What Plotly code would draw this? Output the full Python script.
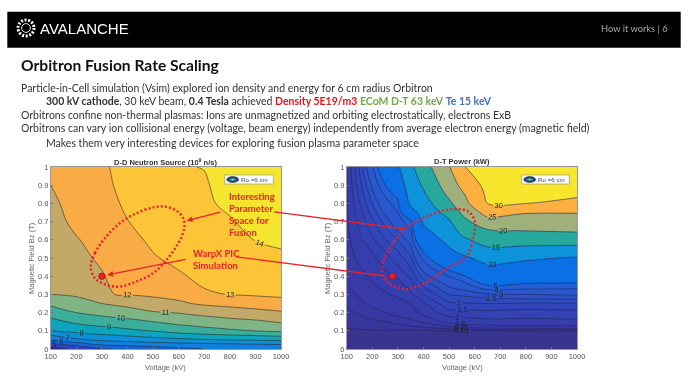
import plotly.graph_objects as go

W, H = 690, 390

# ---------- D-D neutron source (10^9 n/s) ----------
dd_voltage = [100, 200, 300, 350, 400, 500, 600, 700, 800, 900, 1000]
dd_field = [0, .02, .05, .1, .15, .2, .25, .3, .4, .5, .6, .7, .8, .9, 1]
dd_v100 = [3.5, 4.4, 6, 8, 8.7, 9.45, 10.2, 11, 11.2, 11.3, 11.5, 11.67, 11.83, 12, 12.2]
dd_v200 = [4.3, 5.1, 6.8, 8.3, 9.2, 10, 10.7, 11.1, 11.4, 11.66, 11.94, 12.2, 12.3, 12.5, 12.7]
dd_v300 = [4.9, 5.9, 7.2, 8.55, 9.5, 10.3, 11, 11.4, 11.9, 12.2, 12.35, 12.5, 12.6, 12.75, 12.85]
dd_v350 = [5.05, 6, 7.3, 8.65, 9.6, 10.45, 11.15, 12, 12.3, 12.4, 12.55, 12.7, 12.9, 13.03, 13.1]
dd_v400 = [5.2, 6.1, 7.4, 8.8, 9.7, 10.55, 11.3, 12.03, 12.4, 12.55, 12.75, 12.98, 13.15, 13.3, 13.4]
dd_v500 = [5.5, 6.25, 7.6, 9.05, 10, 10.9, 11.7, 12.12, 12.6, 12.93, 13.15, 13.3, 13.45, 13.6, 13.7]
dd_v600 = [5.75, 6.4, 7.75, 9.4, 10.3, 11.05, 11.85, 12.3, 12.9, 13.2, 13.4, 13.6, 13.75, 13.85, 13.95]
dd_v700 = [6, 6.5, 7.9, 9.65, 10.5, 11.3, 12.15, 12.9, 13.2, 13.4, 13.6, 13.75, 13.88, 13.92, 14.02]
dd_v800 = [6.1, 6.6, 8, 9.85, 10.7, 11.5, 12.3, 13.02, 13.3, 13.55, 13.75, 13.93, 14.15, 14.3, 14.4]
dd_v900 = [6.2, 6.7, 8.1, 10.02, 10.85, 11.65, 12.5, 13.1, 13.45, 13.75, 14.02, 14.25, 14.4, 14.55, 14.7]
dd_v1000 = [6.3, 6.8, 8.2, 10.2, 11.1, 11.9, 12.6, 13.2, 13.55, 13.9, 14.1, 14.4, 14.6, 14.8, 14.9]
dd_columns = [dd_v100, dd_v200, dd_v300, dd_v350, dd_v400, dd_v500, dd_v600, dd_v700, dd_v800, dd_v900, dd_v1000]
dd_levels = [4, 5, 6, 7, 8, 9, 10, 11, 12, 13, 14]
dd_colors = ['#2a45c0', '#1565d8', '#1080e0', '#0d90d5', '#0ca5bd', '#3aae9a', '#80b484', '#c2a968',
             '#f9ac45', '#fcc437', '#f6e52e']

# ---------- D-T power (kW) ----------
dt_voltage = [100, 200, 300, 350, 400, 500, 550, 650, 800, 1000]
dt_field = [0, .1, .11, .15, .2, .25, .3, .35, .4, .45, .5, .55, .6, .65, .7, .75, .8, .85, .9, 1]
dt_v100 = [0, 0, .005, .04, .07, .11, .17, .24, .27, .3, .32, .34, .36, .38, .39, .41, .42, .43, .44, .46]
dt_v200 = [0, 0, .02, .07, .17, .3, .38, .46, .55, .66, .88, 1.06, 1.4, 1.65, 1.9, 2.2, 2.5, 2.8, 3.12, 3.8]
dt_v300 = [0, 0, .03, .13, .33, .42, .55, .78, 1.1, 1.43, 1.75, 2.08, 2.5, 3, 3.5, 4, 4.6, 5.5, 6.8, 9.5]
dt_v350 = [0, 0, .04, .2, .37, .5, .85, 1.22, 1.6, 2, 2.35, 2.8, 3.3, 3.9, 4.7, 8, 10.9, 11.9, 12.8, 14]
dt_v400 = [0, 0, .05, .27, .6, .9, 1.5, 2.1, 2.7, 3.4, 4.3, 5.5, 7.5, 9, 10.6, 11.9, 13, 14.4, 15.5, 18]
dt_v500 = [0, 0, .08, .6, 1.3, 1.9, 2.5, 3.1, 4, 5.6, 7.5, 9.7, 11.2, 12.8, 14.4, 16.6, 19, 21, 22.5, 24.7]
dt_v550 = [0, 0, .1, .7, 1.28, 1.95, 2.6, 3.4, 4.7, 6.3, 9, 11.7, 14, 16.2, 18.5, 20.5, 23, 24.3, 26, 29.5]
dt_v650 = [0, 0, .15, .85, 1.35, 2, 2.85, 5, 7, 9.2, 11.7, 14.4, 17, 19.5, 23, 26.8, 30.05, 30.8, 31.5, 33]
dt_v800 = [0, 0, .2, .85, 1.25, 1.95, 3, 4.7, 6.2, 8.3, 10.7, 14, 17, 20.05, 22.6, 25.3, 30.05, 30.9, 31.5, 33]
dt_v1000 = [0, 0, .2, .9, 1.3, 1.98, 3.1, 4.6, 6.25, 8, 9.6, 13.6, 17.2, 20.5, 23, 25.2, 28.2, 31, 32, 33]
dt_columns = [dt_v100, dt_v200, dt_v300, dt_v350, dt_v400, dt_v500, dt_v550, dt_v650, dt_v800, dt_v1000]
dt_levels = [.01, .1, .25, .5, 1, 1.5, 2, 2.5, 3, 4, 5, 10, 15, 20, 25, 30]
dt_colors = ['#38369c', '#3838a2', '#383aa8', '#363eae', '#3442b4', '#3146ba', '#2e4cc0', '#2b52c6', '#2858cc',
             '#2260d6', '#0b6fe6', '#0d93da', '#26a89c', '#9fb07a', '#fbb040', '#f8e62c']

# ---------- overlay readings ----------
ellipse_dd_v = [256, 273, 312, 371, 436, 501, 540, 586, 618, 622, 599, 553, 501, 436, 371, 319, 273, 256]
ellipse_dd_b = [.453, .527, .609, .692, .747, .778, .783, .765, .719, .664, .582, .49, .417, .371, .343, .352, .389, .453]
ellipse_dt_v = [239, 250, 282, 328, 399, 477, 529, 575, 601, 594, 568, 503, 438, 373, 321, 276, 246, 239]
ellipse_dt_b = [.453, .508, .582, .661, .719, .76, .769, .756, .701, .609, .508, .453, .389, .343, .33, .352, .389, .453]
point_dd = (300, .40)
point_dt = (278, .40)
voltage_ticks = [100, 200, 300, 400, 500, 600, 700, 800, 900, 1000]
field_ticks = [0, .1, .2, .3, .4, .5, .6, .7, .8, .9, 1]


def transpose(columns):
    return [list(row) for row in zip(*columns)]


def px(x):
    return x / W


def py(y):
    return 1 - y / H


fig = go.Figure()


def add_panel(xs, ys, z, levels, colors, xa, ya, base, line_color):
    fig.add_trace(go.Heatmap(x=xs, y=ys, z=[[0] * len(xs) for _ in ys], showscale=False,
                             colorscale=[[0, base], [1, base]], hoverinfo='skip', xaxis=xa, yaxis=ya))
    # a constraint contour shades the side that fails the test, so "<=" shades the values above the level
    for lvl, c in zip(levels, colors):
        fig.add_trace(go.Contour(x=xs, y=ys, z=z, showscale=False, hoverinfo='skip', xaxis=xa, yaxis=ya,
                                 fillcolor=c, line=dict(width=0),
                                 contours=dict(type='constraint', operation='<=', value=lvl)))
    for lvl in levels:
        fig.add_trace(go.Contour(x=xs, y=ys, z=z, showscale=False, hoverinfo='skip', xaxis=xa, yaxis=ya,
                                 autocontour=False, line=dict(width=0.6, color=line_color),
                                 contours=dict(coloring='none', start=lvl, end=lvl, size=1, showlabels=True,
                                               labelformat='.3~g',
                                               labelfont=dict(size=7.5, color='#222', family='Liberation Sans'))))


add_panel(dd_voltage, dd_field, transpose(dd_columns), dd_levels, dd_colors, 'x', 'y', '#342c8c', '#2b2b2b')
add_panel(dt_voltage, dt_field, transpose(dt_columns), dt_levels, dt_colors, 'x2', 'y2', '#38348f', '#23275e')

for xs, ys, pt, xa, ya in [(ellipse_dd_v, ellipse_dd_b, point_dd, 'x', 'y'),
                           (ellipse_dt_v, ellipse_dt_b, point_dt, 'x2', 'y2')]:
    fig.add_trace(go.Scatter(x=xs, y=ys, mode='lines', xaxis=xa, yaxis=ya, hoverinfo='skip',
                             line=dict(color='#e8202a', width=2.4, dash='2px 2.2px', shape='spline', smoothing=1)))
    fig.add_trace(go.Scatter(x=[pt[0]], y=[pt[1]], mode='markers', xaxis=xa, yaxis=ya, hoverinfo='skip',
                             marker=dict(size=6.5, color='#f01c1c', line=dict(color='#8a1010', width=0.6))))

axis_font = dict(family='Liberation Sans', size=7.5, color='#555')


def axis_style(**kw):
    return dict(showgrid=False, zeroline=False, showline=True, mirror=True, linecolor='#999', linewidth=0.6,
                ticks='inside', ticklen=2, tickcolor='#777', tickwidth=0.5, tickfont=axis_font, **kw)


layout = dict(
    width=W, height=H, autosize=False, margin=dict(l=0, r=0, t=0, b=0, autoexpand=False),
    paper_bgcolor='white', plot_bgcolor='white', showlegend=False,
    xaxis=axis_style(domain=[px(50.7), px(281)], range=[100, 1000], tickvals=voltage_ticks, anchor='y'),
    yaxis=axis_style(domain=[py(349), py(167)], range=[0, 1], tickvals=field_ticks, anchor='x', tickformat='~g'),
    xaxis2=axis_style(domain=[px(346.7), px(577)], range=[100, 1000], tickvals=voltage_ticks, anchor='y2'),
    yaxis2=axis_style(domain=[py(349), py(167)], range=[0, 1], tickvals=field_ticks, anchor='x2', tickformat='~g'),
)

shapes = []
annotations = []


def rect(x0, y0, x1, y1, fill, line=None, lw=0.6):
    shapes.append(dict(type='rect', xref='paper', yref='paper', x0=px(x0), x1=px(x1), y0=py(y0), y1=py(y1),
                       fillcolor=fill, line=dict(color=line or fill, width=lw if line else 0)))


def oval(cx, cy, rx, ry, fill='rgba(0,0,0,0)', line='white', lw=1.0, dash='solid'):
    shapes.append(dict(type='circle', xref='paper', yref='paper', x0=px(cx - rx), x1=px(cx + rx), y0=py(cy + ry),
                       y1=py(cy - ry), fillcolor=fill, line=dict(color=line, width=lw, dash=dash)))


def text(x, y, s, size, color='#222', family='Lato', anchor='left', angle=0):
    annotations.append(dict(xref='paper', yref='paper', x=px(x), y=py(y), text=s, showarrow=False, xanchor=anchor,
                            yanchor='middle', textangle=angle, font=dict(size=size, color=color, family=family),
                            borderpad=0, borderwidth=0))


def arrow(x0, y0, x1, y1, head=True):
    annotations.append(dict(xref='paper', yref='paper', axref='pixel', ayref='pixel', x=px(x1), y=py(y1),
                            ax=x0 - x1, ay=y0 - y1, text='', showarrow=True, arrowhead=2 if head else 0,
                            arrowsize=0.9, arrowwidth=1.3, arrowcolor='#e8202a', standoff=0))


# header band and logo
rect(7.3, 11.7, 680.7, 47.7, '#000000')
oval(26, 28, 8, 8, lw=3, dash='2px 1.6px')
oval(26, 28, 4.4, 4.4, lw=0.9)
text(40, 29, 'AVALANCHE', 15, 'white', 'Liberation Sans')
text(668.3, 29, 'How it works | 6', 9.3, '#a8a8a8', 'Lato', anchor='right')

# slide text
body = 10.5
text(20.7, 65.5, '<b>Orbitron Fusion Rate Scaling</b>', 15.6, '#111')
text(20.7, 88, 'Particle-in-Cell simulation (Vsim) explored ion density and energy for 6 cm radius Orbitron', body, '#333')
text(45.7, 101.5, "<b>300 kV cathode</b>, 30 keV beam, <b>0.4 Tesla</b> achieved "
                  "<span style='color:#e8141c'><b>Density 5E19/m3</b></span> "
                  "<span style='color:#70a84a'><b>ECoM D-T 63 keV</b></span> "
                  "<span style='color:#4472c4'><b>Te 15 keV</b></span>", body, '#333')
text(20.7, 115, 'Orbitrons confine non-thermal plasmas: Ions are unmagnetized and orbiting electrostatically, electrons ExB', body, '#333')
text(20.7, 128.5, 'Orbitrons can vary ion collisional energy (voltage, beam energy) independently from average electron energy (magnetic field)', body, '#333')
text(45.7, 142.5, 'Makes them very interesting devices for exploring fusion plasma parameter space', body, '#333')

# panel titles and axis labels
text(165.5, 161.5, '<b>D-D Neutron Source (10<sup>9</sup> n/s)</b>', 7.5, '#333', 'Liberation Sans', 'center')
text(462, 161.5, '<b>D-T Power (kW)</b>', 7.5, '#333', 'Liberation Sans', 'center')
text(165.5, 367, 'Voltage (kV)', 7.5, '#666', 'Liberation Sans', 'center')
text(462, 367, 'Voltage (kV)', 7.5, '#666', 'Liberation Sans', 'center')
text(31, 258, 'Magnetic Field Bz (T)', 7.5, '#666', 'Liberation Sans', 'center', -90)
text(327, 258, 'Magnetic Field Bz (T)', 7.5, '#666', 'Liberation Sans', 'center', -90)

# legend boxes
for x0, x1 in [(224.7, 273.3), (521.7, 569.3)]:
    rect(x0, 175, x1, 184, 'white', '#888', 0.6)
    oval(x0 + 8, 179.5, 6, 3, fill='#1c3f9e', line='#222', lw=0.5)
    oval(x0 + 8, 179.5, 3.4, 1.6, fill='#2fa89a', line='#222', lw=0.3)
    oval(x0 + 8, 179.5, 1.5, 0.7, fill='#f2e030', line='#222', lw=0.2)
    text(x0 + 16.5, 179.7, 'Ro =6 cm', 6.2, '#444', 'Liberation Sans')

# red callouts
for y, s in [(196.7, 'Interesting'), (208, 'Parameter'), (220, 'Space for'), (232, 'Fusion')]:
    text(228.5, y, '<b>%s</b>' % s, 9.5, '#e8202a', 'Lato')
for y, s in [(253, 'WarpX PIC'), (265.7, 'Simulation')]:
    text(192.7, y, '<b>%s</b>' % s, 9.5, '#e8202a', 'Lato')
arrow(221.7, 211.7, 186.7, 220.7)
arrow(187.3, 259, 107.3, 275)
arrow(272.7, 211.7, 405, 229, head=False)
arrow(235, 256.7, 385, 276, head=False)

layout['shapes'] = shapes
layout['annotations'] = annotations
fig.update_layout(**layout)
fig.write_html("out.html", config=dict(displayModeBar=False),
               post_script="document.body.style.margin='0';document.documentElement.style.overflow='hidden';"
                           "document.querySelector('.plotly-graph-div').style.filter='blur(0.45px)';")
